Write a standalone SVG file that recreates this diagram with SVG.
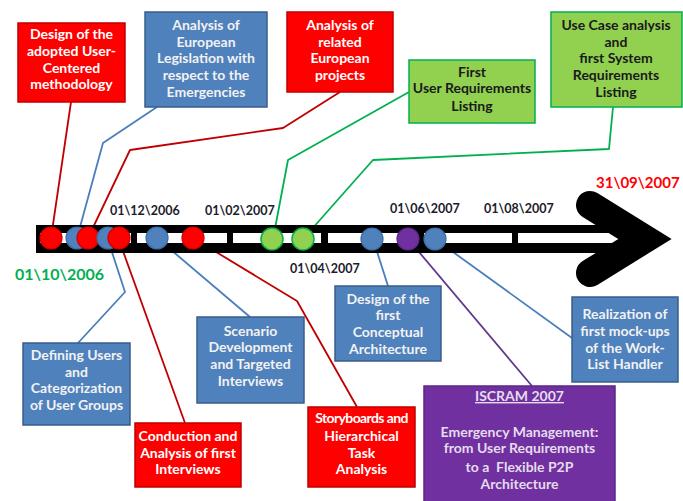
<svg xmlns="http://www.w3.org/2000/svg" width="683" height="501" viewBox="0 0 683 501">
<style>
text{font-family:Lato,"Liberation Sans",sans-serif;font-weight:bold}
.box text{font-size:14px;text-anchor:middle}
.red rect{fill:#ff0000;stroke:#c00000;stroke-width:1.5}
.red text{fill:#ffffff}
.blue rect{fill:#4f81bd;stroke:#385d8a;stroke-width:1.5}
.blue text{fill:#f2f2f2}
.green rect{fill:#92d050;stroke:#00b050;stroke-width:1.5}
.green text{fill:#1a1a1a}
.purple rect{fill:#7030a0;stroke:#5c2787;stroke-width:1.5}
.purple text{fill:#e4dcec}
.c{fill:none;stroke-width:1.8;stroke-linejoin:round}
.cr{stroke:#c00000}
.cb{stroke:#4a7ebb}
.cg{stroke:#00b050}
.cp{stroke:#5f3b8a}
.date{font-size:12.5px;fill:#1c1c2c}
.mr{fill:#ff0000;stroke:#d00000;stroke-width:1.2}
.mb{fill:#4f81bd;stroke:#3d6da6;stroke-width:1.2}
.mg{fill:#92d050;stroke:#00b050;stroke-width:1.5}
.mp{fill:#7030a0;stroke:#5c2787;stroke-width:1.2}
.dash{fill:#ffffff}
</style>

<g id="connectors">
  <polyline class="c cr" points="71,102 51,238"/>
  <polyline class="c cb" points="157,107 103,143 77,238"/>
  <polyline class="c cr" points="340,92 283,128 130,150 88,238"/>
  <polyline class="c cg" points="409,92 288,160 273,239"/>
  <polyline class="c cg" points="613,107 609,149 373,160 303,239"/>
  <polyline class="c cb" points="108,240 125,292 78,343"/>
  <polyline class="c cr" points="119,240 185,423"/>
  <polyline class="c cb" points="157,238 250,317"/>
  <polyline class="c cr" points="193,238 297,301 357,407"/>
  <polyline class="c cb" points="373,239 388,286"/>
  <polyline class="c cp" points="408,239 532,386"/>
  <polyline class="c cb" points="435,239 572,338"/>
</g>

<g id="timeline">
  <rect x="36" y="225" width="584" height="28" fill="#000000"/>
  <rect class="dash" x="40" y="233" width="91" height="10"/>
  <rect class="dash" x="137" y="233" width="90" height="10"/>
  <rect class="dash" x="233" y="233" width="88" height="10"/>
  <rect class="dash" x="328" y="233" width="90" height="10"/>
  <rect class="dash" x="424" y="233" width="88" height="10"/>
  <rect class="dash" x="518" y="233" width="102" height="10"/>
  <polyline points="590,205 645,239 590,273" fill="none" stroke="#000000" stroke-width="28" stroke-linecap="round" stroke-linejoin="miter"/>
</g>

<g id="milestones">
  <circle class="mr" cx="51" cy="238" r="11"/>
  <circle class="mb" cx="77" cy="238" r="11"/>
  <circle class="mr" cx="88" cy="238" r="11"/>
  <circle class="mb" cx="108" cy="238" r="11"/>
  <circle class="mr" cx="119" cy="238" r="11"/>
  <circle class="mb" cx="157" cy="238" r="11"/>
  <circle class="mr" cx="193" cy="238" r="11"/>
  <circle class="mg" cx="272" cy="239" r="11"/>
  <circle class="mg" cx="303" cy="239" r="11"/>
  <circle class="mb" cx="372" cy="239" r="11"/>
  <circle class="mp" cx="408" cy="239" r="11"/>
  <circle class="mb" cx="435" cy="239" r="11"/>
</g>

<g id="dates">
  <text class="date" x="110" y="215">01\12\2006</text>
  <text class="date" x="205" y="215">01\02\2007</text>
  <text class="date" x="290" y="273">01\04\2007</text>
  <text class="date" x="390" y="213">01\06\2007</text>
  <text class="date" x="484" y="213">01\08\2007</text>
  <text x="596" y="188" font-size="15" fill="#ff0000">31\09\2007</text>
  <text x="15" y="280" font-size="16" fill="#00b050">01\10\2006</text>
</g>

<g id="box-design-methodology" class="box red">
  <rect x="18" y="23" width="107" height="79"/>
  <text x="71.5" y="39">Design of the</text>
  <text x="71.5" y="56">adopted User-</text>
  <text x="71.5" y="72.5">Centered</text>
  <text x="71.5" y="89">methodology</text>
</g>

<g id="box-legislation" class="box blue">
  <rect x="145" y="12" width="122" height="95"/>
  <text x="206" y="30">Analysis of</text>
  <text x="206" y="46.5">European</text>
  <text x="206" y="63">Legislation with</text>
  <text x="206" y="80">respect to the</text>
  <text x="206" y="96.5">Emergencies</text>
</g>

<g id="box-related-projects" class="box red">
  <rect x="287" y="12" width="106" height="80"/>
  <text x="340" y="30">Analysis of</text>
  <text x="340" y="46.5">related</text>
  <text x="340" y="63">European</text>
  <text x="340" y="80">projects</text>
</g>

<g id="box-first-user-req" class="box green">
  <rect x="409" y="60" width="126" height="63"/>
  <text x="472" y="76.5">First</text>
  <text x="472" y="93">User Requirements</text>
  <text x="472" y="110.5">Listing</text>
</g>

<g id="box-use-case" class="box green">
  <rect x="551" y="12" width="131" height="95"/>
  <text x="616" y="30">Use Case analysis</text>
  <text x="616" y="46.5">and</text>
  <text x="616" y="63">first System</text>
  <text x="616" y="80">Requirements</text>
  <text x="616" y="96.5">Listing</text>
</g>

<g id="box-defining-users" class="box blue">
  <rect x="23" y="343" width="107" height="82"/>
  <text x="76.5" y="360">Defining Users</text>
  <text x="76.5" y="376.5">and</text>
  <text x="76.5" y="393">Categorization</text>
  <text x="76.5" y="410">of User Groups</text>
</g>

<g id="box-conduction" class="box red">
  <rect x="135" y="423" width="106" height="64"/>
  <text x="188" y="441">Conduction and</text>
  <text x="188" y="457.5">Analysis of first</text>
  <text x="188" y="474">Interviews</text>
</g>

<g id="box-scenario" class="box blue">
  <rect x="197" y="317" width="107" height="86"/>
  <text x="250.5" y="335.5">Scenario</text>
  <text x="250.5" y="352">Development</text>
  <text x="250.5" y="369">and Targeted</text>
  <text x="250.5" y="385.5">Interviews</text>
</g>

<g id="box-storyboards" class="box red">
  <rect x="308" y="407" width="107" height="80"/>
  <text x="361.5" y="423" letter-spacing="-0.6">Storyboards and</text>
  <text x="361.5" y="440.5">Hierarchical</text>
  <text x="361.5" y="457.5">Task</text>
  <text x="361.5" y="474">Analysis</text>
</g>

<g id="box-conceptual-arch" class="box blue">
  <rect x="335" y="286" width="106" height="75"/>
  <text x="388" y="304">Design of the</text>
  <text x="388" y="320">first</text>
  <text x="388" y="337">Conceptual</text>
  <text x="388" y="354">Architecture</text>
</g>

<g id="box-mockups" class="box blue">
  <rect x="572" y="297" width="106" height="85"/>
  <text x="625" y="319">Realization of</text>
  <text x="625" y="335.5">first mock-ups</text>
  <text x="625" y="352.5">of the Work-</text>
  <text x="625" y="369">List Handler</text>
</g>

<g id="box-iscram" class="box purple">
  <rect x="424" y="386" width="191" height="118"/>
  <text x="519.5" y="401" text-decoration="underline">ISCRAM 2007</text>
  <text x="519.5" y="436.5">Emergency Management:</text>
  <text x="519.5" y="453">from User Requirements</text>
  <text x="519.5" y="471.5" xml:space="preserve">to a  Flexible P2P</text>
  <text x="519.5" y="489">Architecture</text>
</g>
</svg>
